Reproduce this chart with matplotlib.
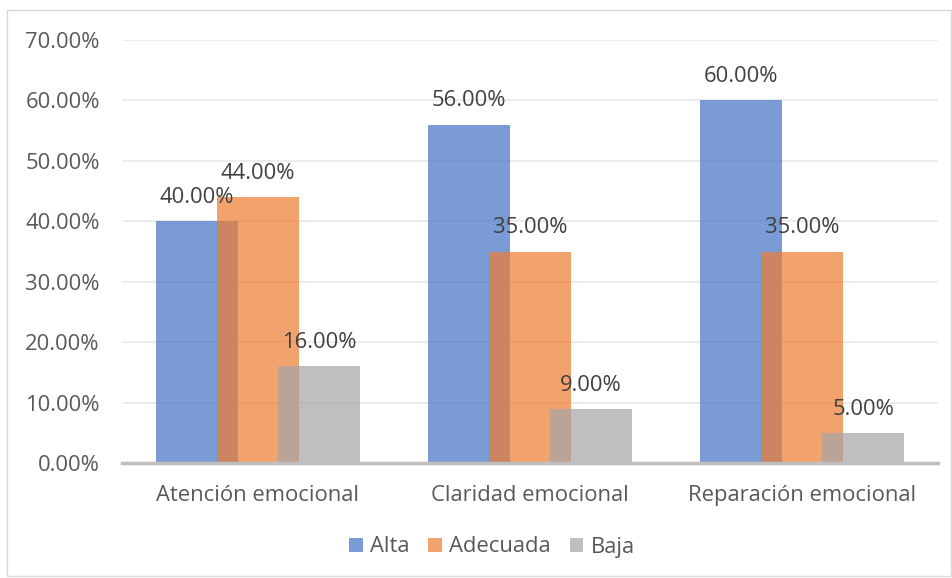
import numpy as np
import matplotlib
matplotlib.use('Agg')
import matplotlib.pyplot as plt
from matplotlib.patches import Rectangle

plt.rcParams['font.family'] = ['Open Sans', 'DejaVu Sans']

categorias = ['Atención emocional', 'Claridad emocional', 'Reparación emocional']
series = ['Alta', 'Adecuada', 'Baja']
alta = [0.40, 0.56, 0.60]
adecuada = [0.44, 0.35, 0.35]
baja = [0.16, 0.09, 0.05]
colores = ['#4472C4', '#ED7D31', '#A5A5A5']
yticks = [0, 0.1, 0.2, 0.3, 0.4, 0.5, 0.6, 0.7]

fs = 15.8
fig = plt.figure(figsize=(9.53, 5.78), dpi=100)
ax = fig.add_axes([122/953, 1-463/578, 816/953, 423/578])

x = np.arange(len(categorias))
ancho = 0.30
paso = 0.225
texto = '#404040'

for i, (vals, nombre, col) in enumerate(zip([alta, adecuada, baja], series, colores)):
    pos = x + (i - 1) * paso
    ax.bar(pos, vals, width=ancho, color=col, alpha=0.71, label=nombre,
           zorder=2 + i, linewidth=0)
    for px, v in zip(pos, vals):
        ax.annotate(f'{v*100:.2f}%', (px, v), xytext=(0, 17), textcoords='offset points',
                    ha='center', va='center', fontsize=fs, color=texto, zorder=10)

ax.set_xlim(-0.5, 2.5)
ax.set_ylim(0, 0.7)
ax.set_yticks(yticks)
ax.set_yticklabels([f'{t*100:.2f}%' for t in yticks], fontsize=fs, color='#595959')
ax.set_xticks(x)
ax.set_xticklabels(categorias, fontsize=fs, color='#595959')
ax.tick_params(axis='y', length=0, pad=16)
ax.tick_params(axis='x', length=0, pad=16)
ax.grid(axis='y', color='#EBEBEB', linewidth=1.3, zorder=0)
ax.set_axisbelow(True)
for s in ['top', 'right', 'left']:
    ax.spines[s].set_visible(False)
ax.spines['bottom'].set_color('#BFBFBF')
ax.spines['bottom'].set_linewidth(2.5)
ax.spines['bottom'].set_zorder(20)

leg = fig.legend(loc='center', bbox_to_anchor=(492/953, 1-547/578), ncol=3, frameon=False,
                 fontsize=fs, handlelength=0.6, handleheight=0.6, handletextpad=0.35,
                 columnspacing=0.85)
for t in leg.get_texts():
    t.set_color('#595959')
for h in leg.legend_handles:
    h.set_alpha(0.71)

fig.patches.append(Rectangle((7/953, 0.003), 944/953, 1-10/578-0.003, transform=fig.transFigure,
                             fill=False, edgecolor='#D9D9D9', linewidth=1))

fig.savefig('out.png', dpi=100)
